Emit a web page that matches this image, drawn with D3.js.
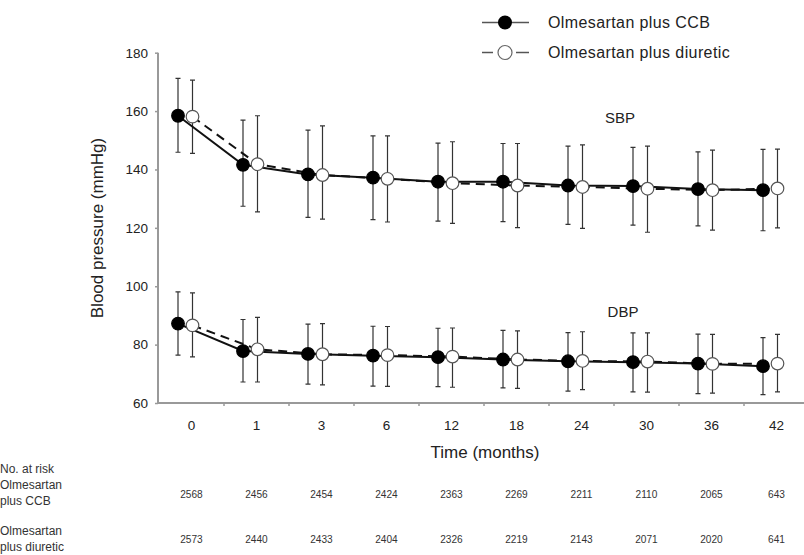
<!DOCTYPE html>
<html>
<head>
<meta charset="utf-8">
<script src="https://cdn.jsdelivr.net/npm/d3@7"></script>
<style>
  body { margin: 0; background: #fff; }
  svg { display: block; font-family: Arial, "Liberation Sans", sans-serif; }
</style>
</head>
<body>
<div id="container"></div>
<script>
// time points and numbers at risk
var months = ["0", "1", "3", "6", "12", "18", "24", "30", "36", "42"];
var riskCCB = [2568, 2456, 2454, 2424, 2363, 2269, 2211, 2110, 2065, 643];
var riskDiu = [2573, 2440, 2433, 2404, 2326, 2219, 2143, 2071, 2020, 641];

// SBP, olmesartan plus CCB (mean, upper, lower)
var sbpCcb   = [158.4, 141.6, 138.3, 137.2, 135.8, 135.8, 134.5, 134.3, 133.3, 132.9];
var sbpCcbHi = [171.2, 156.9, 153.5, 151.5, 149.0, 148.9, 148.0, 147.6, 146.0, 146.9];
var sbpCcbLo = [145.9, 127.4, 123.6, 122.8, 122.3, 122.1, 121.2, 120.9, 120.7, 119.0];
// SBP, olmesartan plus diuretic
var sbpDiu   = [158.1, 141.8, 138.1, 136.8, 135.3, 134.5, 134.0, 133.4, 132.9, 133.5];
var sbpDiuHi = [170.6, 158.4, 154.9, 151.5, 149.5, 148.9, 148.4, 148.0, 146.6, 147.0];
var sbpDiuLo = [145.5, 125.5, 123.0, 122.0, 121.5, 120.1, 119.8, 118.5, 119.2, 120.0];
// DBP, olmesartan plus CCB
var dbpCcb   = [87.2, 77.8, 76.8, 76.2, 75.7, 74.9, 74.3, 74.0, 73.5, 72.6];
var dbpCcbHi = [98.1, 88.6, 87.0, 86.3, 85.6, 84.9, 84.1, 84.0, 83.6, 82.4];
var dbpCcbLo = [76.4, 67.2, 66.5, 65.8, 65.6, 65.2, 64.1, 63.8, 63.2, 62.9];
// DBP, olmesartan plus diuretic
var dbpDiu   = [86.6, 78.4, 76.7, 76.4, 75.9, 74.9, 74.4, 74.2, 73.4, 73.5];
var dbpDiuHi = [97.7, 89.3, 87.2, 86.2, 85.7, 84.7, 84.4, 84.0, 83.5, 83.5];
var dbpDiuLo = [75.8, 67.2, 66.2, 65.7, 65.4, 65.0, 64.6, 63.7, 63.4, 63.8];

var yTicks = [60, 80, 100, 120, 140, 160, 180];

var width = 804, height = 555;

var svg = d3.select("#container").append("svg")
    .attr("width", width)
    .attr("height", height);

var x = d3.scaleBand().domain(months).range([159, 809]);
var y = d3.scaleLinear().domain([60, 180]).range([403, 52.7]);

var offCcb = x.bandwidth() / 2 - 13.5,
    offDiu = x.bandwidth() / 2 + 1;

//////////////////// axes ////////////////////
var axisColor = "#999";

var yAxis = svg.append("g")
    .attr("transform", "translate(158,0)")
    .call(d3.axisLeft(y).tickValues(yTicks).tickSize(3).tickPadding(7));
yAxis.select(".domain").attr("stroke", axisColor).attr("stroke-width", 2)
    .attr("d", "M0," + y(180) + "V" + (y(60) + 1));
yAxis.selectAll(".tick line").attr("stroke", axisColor).attr("stroke-width", 1.5);
yAxis.selectAll(".tick text").attr("font-size", "13.5px").attr("fill", "#222");

var xAxis = svg.append("g")
    .attr("transform", "translate(0,403)");
xAxis.append("path")
    .attr("d", "M157,0H804")
    .attr("stroke", axisColor).attr("stroke-width", 2);
xAxis.selectAll(".xt")
    .data(months.slice(1))
    .enter().append("line")
    .attr("x1", function (d) { return x(d); })
    .attr("x2", function (d) { return x(d); })
    .attr("y1", 0).attr("y2", 3)
    .attr("stroke", axisColor).attr("stroke-width", 1.5);
xAxis.selectAll(".xl")
    .data(months)
    .enter().append("text")
    .attr("x", function (d) { return x(d) + x.bandwidth() / 2; })
    .attr("y", 27)
    .attr("text-anchor", "middle")
    .attr("font-size", "13.5px")
    .attr("fill", "#222")
    .text(function (d) { return d; });

svg.append("text")
    .attr("transform", "translate(103,228) rotate(-90)")
    .attr("text-anchor", "middle")
    .attr("font-size", "17px")
    .attr("fill", "#222")
    .text("Blood pressure (mmHg)");

svg.append("text")
    .attr("x", 485).attr("y", 458)
    .attr("text-anchor", "middle")
    .attr("font-size", "17px")
    .attr("fill", "#222")
    .text("Time (months)");

svg.append("text").attr("x", 620).attr("y", 123)
    .attr("text-anchor", "middle").attr("font-size", "15px").attr("fill", "#222")
    .text("SBP");
svg.append("text").attr("x", 623).attr("y", 317)
    .attr("text-anchor", "middle").attr("font-size", "15px").attr("fill", "#222")
    .text("DBP");

//////////////////// series ////////////////////
function drawSeries(mean, hi, lo, off) {
    var pts = months.map(function (m, i) {
        return { x: x(m) + off, m: mean[i], hi: hi[i], lo: lo[i] };
    });
    // error bars
    svg.append("g").selectAll(".eb").data(pts).enter().append("path")
        .attr("d", function (d) {
            return "M" + d.x + "," + y(d.hi) + "V" + y(d.lo) +
                "M" + (d.x - 2.5) + "," + y(d.hi) + "H" + (d.x + 2.5) +
                "M" + (d.x - 2.5) + "," + y(d.lo) + "H" + (d.x + 2.5);
        })
        .attr("fill", "none")
        .attr("stroke", "#333")
        .attr("stroke-width", 1.2);
    return pts;
}

function drawLine(pts, dashed) {
    var line = d3.line().x(function (d) { return d.x; }).y(function (d) { return y(d.m); });
    svg.append("path")
        .datum(pts)
        .attr("d", line)
        .attr("fill", "none")
        .attr("stroke", "#111")
        .attr("stroke-width", 2)
        .attr("stroke-dasharray", dashed ? "9,6" : null);
}

function drawDots(pts, filled) {
    svg.append("g").selectAll("circle").data(pts).enter().append("circle")
        .attr("cx", function (d) { return d.x; })
        .attr("cy", function (d) { return y(d.m); })
        .attr("r", 6.3)
        .attr("fill", filled ? "#000" : "#fff")
        .attr("stroke", filled ? "#000" : "#555")
        .attr("stroke-width", 1.2);
}

var sets = [
    [sbpCcb, sbpCcbHi, sbpCcbLo, sbpDiu, sbpDiuHi, sbpDiuLo],
    [dbpCcb, dbpCcbHi, dbpCcbLo, dbpDiu, dbpDiuHi, dbpDiuLo]
];
sets.forEach(function (s) {
    var pc = drawSeries(s[0], s[1], s[2], offCcb);
    var pd = drawSeries(s[3], s[4], s[5], offDiu);
    drawLine(pd, true);
    drawLine(pc, false);
    drawDots(pc, true);
    drawDots(pd, false);
});

//////////////////// legend ////////////////////
var lg = svg.append("g");
lg.append("line").attr("x1", 482).attr("x2", 529).attr("y1", 22.5).attr("y2", 22.5)
    .attr("stroke", "#555").attr("stroke-width", 1.5);
lg.append("circle").attr("cx", 505).attr("cy", 22.5).attr("r", 7).attr("fill", "#000");
lg.append("line").attr("x1", 482).attr("x2", 493).attr("y1", 52.5).attr("y2", 52.5)
    .attr("stroke", "#555").attr("stroke-width", 1.5);
lg.append("line").attr("x1", 516).attr("x2", 529).attr("y1", 52.5).attr("y2", 52.5)
    .attr("stroke", "#555").attr("stroke-width", 1.5);
lg.append("circle").attr("cx", 505).attr("cy", 52.5).attr("r", 7)
    .attr("fill", "#fff").attr("stroke", "#666").attr("stroke-width", 1.2);
lg.append("text").attr("x", 548).attr("y", 28).attr("font-size", "16px")
    .attr("letter-spacing", "0.4px").attr("fill", "#222")
    .text("Olmesartan plus CCB");
lg.append("text").attr("x", 548).attr("y", 58).attr("font-size", "16px")
    .attr("letter-spacing", "0.4px").attr("fill", "#222")
    .text("Olmesartan plus diuretic");

//////////////////// number at risk ////////////////////
var tbl = svg.append("g").attr("font-size", "12px").attr("fill", "#333");
var rowLabels = [["No. at risk", 473], ["Olmesartan", 489], ["plus CCB", 505],
                 ["Olmesartan", 535], ["plus diuretic", 551]];
tbl.selectAll(".rl").data(rowLabels).enter().append("text")
    .attr("x", 0).attr("y", function (d) { return d[1]; })
    .text(function (d) { return d[0]; });

[[riskCCB, 498], [riskDiu, 543]].forEach(function (r) {
    tbl.selectAll(null).data(r[0]).enter().append("text")
        .attr("x", function (d, i) { return x(months[i]) + x.bandwidth() / 2; })
        .attr("y", r[1])
        .attr("text-anchor", "middle")
        .attr("font-size", "11.5px")
        .attr("transform", function (d, i) {
            var cx = x(months[i]) + x.bandwidth() / 2;
            return "translate(" + cx + ",0) scale(0.88,1) translate(" + (-cx) + ",0)";
        })
        .text(function (d) { return d; });
});
</script>
</body>
</html>
